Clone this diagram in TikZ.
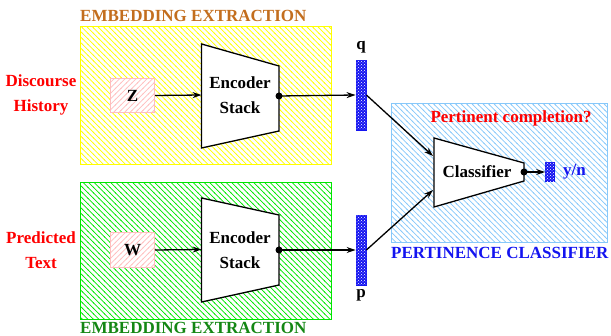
\documentclass[tikz,border=0pt]{standalone}
\usepackage{fontspec}
\setmainfont{Liberation Serif}
\usetikzlibrary{arrows.meta,patterns}
\pgfdeclarepatternformonly{bslines}{\pgfqpoint{-1pt}{-1pt}}{\pgfqpoint{6.5pt}{6.5pt}}{\pgfqpoint{5.5pt}{5.5pt}}{%
  \pgfsetlinewidth{0.7pt}%
  \pgfpathmoveto{\pgfqpoint{-0.5pt}{6pt}}\pgfpathlineto{\pgfqpoint{6pt}{-0.5pt}}\pgfusepath{stroke}}
\pgfdeclarepatternformonly{fslines}{\pgfqpoint{-1pt}{-1pt}}{\pgfqpoint{6.5pt}{6.5pt}}{\pgfqpoint{5.5pt}{5.5pt}}{%
  \pgfsetlinewidth{0.7pt}%
  \pgfpathmoveto{\pgfqpoint{-0.5pt}{-0.5pt}}\pgfpathlineto{\pgfqpoint{6pt}{6pt}}\pgfusepath{stroke}}
\definecolor{yel}{RGB}{255,255,0}
\definecolor{grn}{RGB}{0,230,0}
\definecolor{skyb}{RGB}{135,200,250}
\definecolor{ttlor}{RGB}{195,110,30}
\definecolor{ttlgr}{RGB}{20,135,20}
\definecolor{pinkc}{RGB}{255,190,190}
\definecolor{vecb}{RGB}{20,20,240}
\tikzset{
  txt/.style={font=\fontsize{17}{25}\selectfont\bfseries, inner sep=0pt, align=center},
  region/.style={line width=1pt, pattern=bslines, inner sep=0pt, anchor=north west},
  inbox/.style={draw=pinkc, line width=1pt, fill=white, postaction={pattern=fslines, pattern color=pinkc}},
  vec/.style={draw=vecb, fill=vecb, minimum width=10pt, inner sep=0pt, line width=0.8pt,
     postaction={pattern=crosshatch dots, pattern color=white}},
  enc/.style={draw=black, fill=white, line width=1.3pt, line join=miter},
  conn/.style={line width=1.3pt, -{Stealth[length=9pt,width=6pt]}},
  dotc/.style={circle, fill=black, inner sep=0pt, minimum size=7pt},
}
\begin{document}
\begin{tikzpicture}[x=1pt,y=-1pt]
\useasboundingbox (0,0) rectangle (611,336);
% regions
\node[region, draw=yel, pattern color=yel, minimum width=251pt, minimum height=138pt] (embA) at (80,26) {};
\node[region, draw=grn, pattern color=grn, minimum width=251pt, minimum height=137pt] (embB) at (80,182) {};
\node[region, draw=skyb, pattern color=skyb, minimum width=216pt, minimum height=139pt] (pclf) at (391,103) {};
% titles
\node[txt, text=ttlor, anchor=west] (tA) at (80,16) {EMBEDDING EXTRACTION};
\node[txt, text=ttlgr, anchor=west] (tB) at (80,328) {EMBEDDING EXTRACTION};
\node[txt, text=vecb, anchor=west] (tC) at (391,253) {PERTINENCE CLASSIFIER};
\node[txt, text=red] (pq) at (511,118) {Pertinent completion?};
% side labels
\node[txt, text=red] (lA) at (41,95) {Discourse\\History};
\node[txt, text=red] (lB) at (41,250) {Predicted\\Text};
% inputs
\node[inbox, minimum width=44pt, minimum height=34pt, anchor=north west] (z) at (110,78) {};
\node[txt] (zl) at (z.center) {Z};
\node[inbox, minimum width=44pt, minimum height=35pt, anchor=north west] (w) at (110,232) {};
\node[txt] (wl) at (w.center) {W};
% encoders
\coordinate (e1a) at (201.5,44); \coordinate (e1b) at (279,66);
\coordinate (e1c) at (279,131); \coordinate (e1d) at (201.5,148);
\draw[enc] (e1a) -- (e1b) -- (e1c) -- (e1d) -- cycle;
\node[txt] (enc1) at (240,95) {Encoder\\Stack};
\coordinate (e2a) at (201.5,198); \coordinate (e2b) at (279,215);
\coordinate (e2c) at (279,285); \coordinate (e2d) at (201.5,302);
\draw[enc] (e2a) -- (e2b) -- (e2c) -- (e2d) -- cycle;
\node[txt] (enc2) at (240,250) {Encoder\\Stack};
\node[dotc] (o1) at (279,96) {};
\node[dotc] (o2) at (279,250) {};
\coordinate (i1) at (201.5,95);
\coordinate (i2) at (201.5,249.5);
% vectors
\node[vec, minimum height=70pt] (q) at (361,95) {};
\node[vec, minimum height=70pt] (p) at (361,250) {};
\node[txt] (ql) at (361,47) {q};
\node[txt] (pl) at (361,295) {p};
% classifier
\coordinate (c1) at (434,138); \coordinate (c2) at (524,163);
\coordinate (c3) at (524,181); \coordinate (c4) at (434,207);
\draw[enc] (c1) -- (c2) -- (c3) -- (c4) -- cycle;
\node[txt] (clf) at (477,172) {Classifier};
\node[dotc] (o3) at (524,172) {};
\coordinate (ci1) at (433,156);
\coordinate (ci2) at (433,190);
\node[vec, minimum width=9pt, minimum height=19pt] (yn) at (550,172) {};
\node[txt, text=vecb, anchor=west] (ynl) at (563,172) {y/n};
% connectors
\draw[conn] (z.east) -- (i1);
\draw[conn] (w.east) -- (i2);
\draw[conn] (o1.center) -- (q.west);
\draw[conn] (o2.center) -- (p.west);
\draw[conn] (q.east) -- (ci1);
\draw[conn] (p.east) -- (ci2);
\draw[conn] (o3.center) -- (yn.west);
\end{tikzpicture}
\end{document}
